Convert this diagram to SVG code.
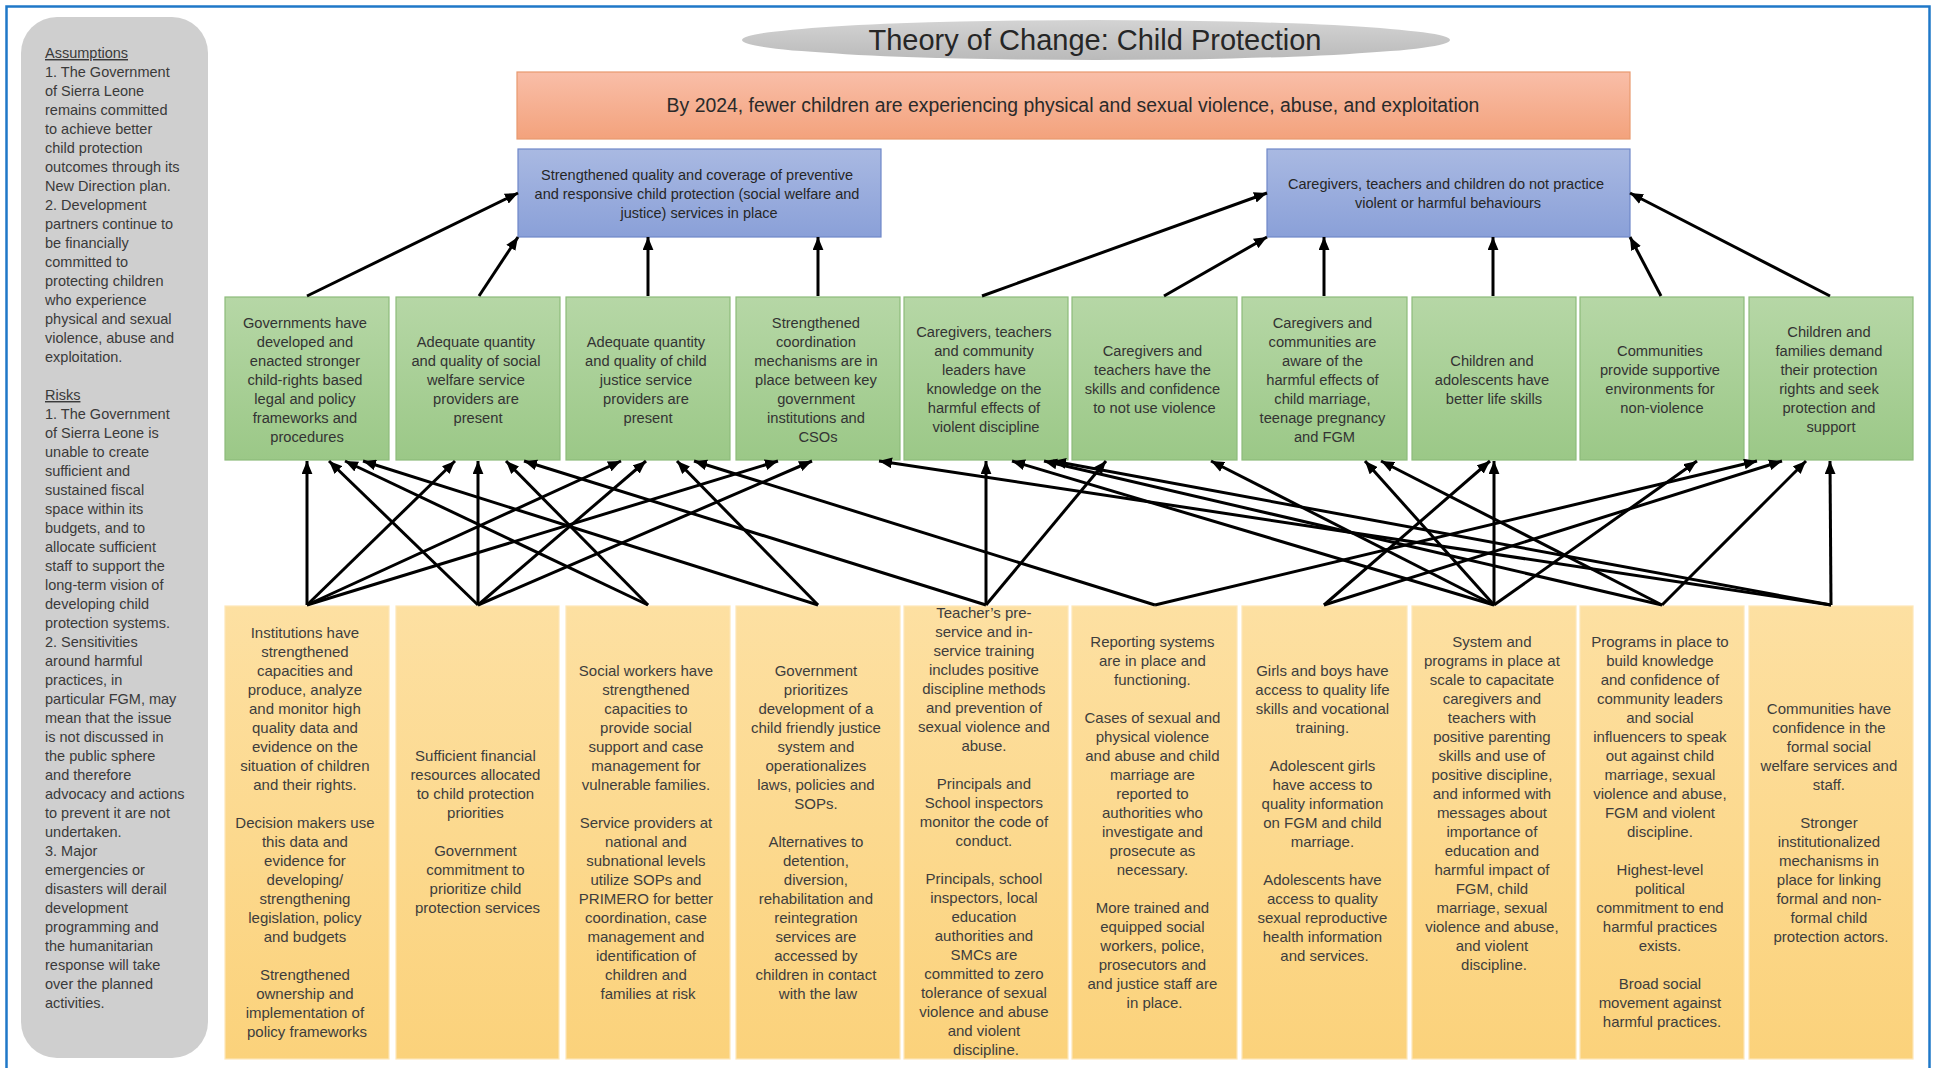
<svg xmlns="http://www.w3.org/2000/svg" width="1935" height="1068" viewBox="0 0 1935 1068">
  <defs>
    <linearGradient id="gOrange" x1="0" y1="0" x2="0" y2="1">
      <stop offset="0" stop-color="#f9bea8"/>
      <stop offset="1" stop-color="#f3a27c"/>
    </linearGradient>
    <linearGradient id="gBlue" x1="0" y1="0" x2="0" y2="1">
      <stop offset="0" stop-color="#a9b9e2"/>
      <stop offset="1" stop-color="#8aa0d8"/>
    </linearGradient>
    <linearGradient id="gGreen" x1="0" y1="0" x2="0" y2="1">
      <stop offset="0" stop-color="#b6d7a6"/>
      <stop offset="1" stop-color="#9bc887"/>
    </linearGradient>
    <linearGradient id="gYellow" x1="0" y1="0" x2="0" y2="1">
      <stop offset="0" stop-color="#fde0a2"/>
      <stop offset="1" stop-color="#fbd27b"/>
    </linearGradient>
    <linearGradient id="gTitle" x1="0" y1="0" x2="0" y2="1">
      <stop offset="0" stop-color="#d3d3d3"/>
      <stop offset="1" stop-color="#bababa"/>
    </linearGradient>
    <marker id="head" viewBox="0 0 12 10" refX="12" refY="5" markerWidth="13" markerHeight="11" markerUnits="userSpaceOnUse" orient="auto">
      <path d="M0,0 L12,5 L0,10 z" fill="#000"/>
    </marker>
    <style>
      text { font-family: "Liberation Sans", Arial, sans-serif; }
      .side { font-size: 14.5px; fill: #3a3a3a; }
      .ttl { font-size: 29px; fill: #262626; text-anchor: middle; }
      .goal { font-size: 19.4px; fill: #2a2a2a; text-anchor: middle; }
      .out { font-size: 14.5px; fill: #262626; text-anchor: middle; }
      .res { font-size: 14.7px; fill: #333333; text-anchor: middle; }
      .act { font-size: 15px; fill: #3d3d3d; text-anchor: middle; }
      .boxO { fill: url(#gOrange); stroke: #e8996f; stroke-width: 1.2; }
      .boxB { fill: url(#gBlue); stroke: #6f87c8; stroke-width: 1.2; }
      .boxG { fill: url(#gGreen); stroke: #8dbb7b; stroke-width: 1.2; }
      .boxY { fill: url(#gYellow); stroke: #fde7b8; stroke-width: 1.2; }
      .arr line { stroke: #000; stroke-width: 3; marker-end: url(#head); }
    </style>
  </defs>

  <rect x="0" y="0" width="1935" height="1068" fill="#ffffff"/>
  <!-- page frame -->
  <rect x="6.5" y="6.5" width="1923" height="1075" fill="none" stroke="#1f78c8" stroke-width="2.5"/>

  <!-- assumptions and risks panel -->
  <g id="assumptions-risks">
    <rect x="21" y="17" width="187" height="1041" rx="36" ry="36" fill="#cfcfcf"/>
    <text class="side" x="45" y="58">
      <tspan x="45" text-decoration="underline">Assumptions</tspan>
      <tspan x="45" dy="19">1. The Government</tspan>
      <tspan x="45" dy="19">of Sierra Leone</tspan>
      <tspan x="45" dy="19">remains committed</tspan>
      <tspan x="45" dy="19">to achieve better</tspan>
      <tspan x="45" dy="19">child protection</tspan>
      <tspan x="45" dy="19">outcomes through its</tspan>
      <tspan x="45" dy="19">New Direction plan.</tspan>
      <tspan x="45" dy="19">2. Development</tspan>
      <tspan x="45" dy="19">partners continue to</tspan>
      <tspan x="45" dy="19">be financially</tspan>
      <tspan x="45" dy="19">committed to</tspan>
      <tspan x="45" dy="19">protecting children</tspan>
      <tspan x="45" dy="19">who experience</tspan>
      <tspan x="45" dy="19">physical and sexual</tspan>
      <tspan x="45" dy="19">violence, abuse and</tspan>
      <tspan x="45" dy="19">exploitation.</tspan>
      <tspan x="45" dy="38" text-decoration="underline">Risks</tspan>
      <tspan x="45" dy="19">1. The Government</tspan>
      <tspan x="45" dy="19">of Sierra Leone is</tspan>
      <tspan x="45" dy="19">unable to create</tspan>
      <tspan x="45" dy="19">sufficient and</tspan>
      <tspan x="45" dy="19">sustained fiscal</tspan>
      <tspan x="45" dy="19">space within its</tspan>
      <tspan x="45" dy="19">budgets, and to</tspan>
      <tspan x="45" dy="19">allocate sufficient</tspan>
      <tspan x="45" dy="19">staff to support the</tspan>
      <tspan x="45" dy="19">long-term vision of</tspan>
      <tspan x="45" dy="19">developing child</tspan>
      <tspan x="45" dy="19">protection systems.</tspan>
      <tspan x="45" dy="19">2. Sensitivities</tspan>
      <tspan x="45" dy="19">around harmful</tspan>
      <tspan x="45" dy="19">practices, in</tspan>
      <tspan x="45" dy="19">particular FGM, may</tspan>
      <tspan x="45" dy="19">mean that the issue</tspan>
      <tspan x="45" dy="19">is not discussed in</tspan>
      <tspan x="45" dy="19">the public sphere</tspan>
      <tspan x="45" dy="19">and therefore</tspan>
      <tspan x="45" dy="19">advocacy and actions</tspan>
      <tspan x="45" dy="19">to prevent it are not</tspan>
      <tspan x="45" dy="19">undertaken.</tspan>
      <tspan x="45" dy="19">3. Major</tspan>
      <tspan x="45" dy="19">emergencies or</tspan>
      <tspan x="45" dy="19">disasters will derail</tspan>
      <tspan x="45" dy="19">development</tspan>
      <tspan x="45" dy="19">programming and</tspan>
      <tspan x="45" dy="19">the humanitarian</tspan>
      <tspan x="45" dy="19">response will take</tspan>
      <tspan x="45" dy="19">over the planned</tspan>
      <tspan x="45" dy="19">activities.</tspan>
    </text>
  </g>

  <!-- title -->
  <g id="title">
    <ellipse cx="1096" cy="40" rx="354" ry="20" fill="url(#gTitle)"/>
    <text class="ttl" x="1095" y="50">Theory of Change: Child Protection</text>
  </g>

  <!-- impact -->
  <g id="goal">
    <rect class="boxO" x="517" y="72" width="1113" height="67"/>
    <text class="goal" x="1073" y="112">By 2024, fewer children are experiencing physical and sexual violence, abuse, and exploitation</text>
  </g>

  <!-- outcomes -->
  <g id="outcome-services">
    <rect class="boxB" x="518" y="149" width="363" height="88"/>
    <text class="out" x="699" y="180">
      <tspan x="699">Strengthened quality and coverage of preventive</tspan>
      <tspan x="699" dy="19">and responsive child protection (social welfare and</tspan>
      <tspan x="699" dy="19">justice) services in place</tspan>
    </text>
  </g>
  <g id="outcome-behaviours">
    <rect class="boxB" x="1267" y="149" width="363" height="88"/>
    <text class="out" x="1448" y="189">
      <tspan x="1448">Caregivers, teachers and children do not practice</tspan>
      <tspan x="1448" dy="19">violent or harmful behaviours</tspan>
    </text>
  </g>

  <!-- intermediate results -->
  <g id="result-1">
    <rect class="boxG" x="225" y="297" width="164" height="163"/>
    <text class="res" x="307" y="327.5">
      <tspan x="307">Governments have</tspan>
      <tspan x="307" dy="19">developed and</tspan>
      <tspan x="307" dy="19">enacted stronger</tspan>
      <tspan x="307" dy="19">child-rights based</tspan>
      <tspan x="307" dy="19">legal and policy</tspan>
      <tspan x="307" dy="19">frameworks and</tspan>
      <tspan x="307" dy="19">procedures</tspan>
    </text>
  </g>
  <g id="result-2">
    <rect class="boxG" x="396" y="297" width="164" height="163"/>
    <text class="res" x="478" y="346.5">
      <tspan x="478">Adequate quantity</tspan>
      <tspan x="478" dy="19">and quality of social</tspan>
      <tspan x="478" dy="19">welfare service</tspan>
      <tspan x="478" dy="19">providers are</tspan>
      <tspan x="478" dy="19">present</tspan>
    </text>
  </g>
  <g id="result-3">
    <rect class="boxG" x="566" y="297" width="164" height="163"/>
    <text class="res" x="648" y="346.5">
      <tspan x="648">Adequate quantity</tspan>
      <tspan x="648" dy="19">and quality of child</tspan>
      <tspan x="648" dy="19">justice service</tspan>
      <tspan x="648" dy="19">providers are</tspan>
      <tspan x="648" dy="19">present</tspan>
    </text>
  </g>
  <g id="result-4">
    <rect class="boxG" x="736" y="297" width="164" height="163"/>
    <text class="res" x="818" y="327.5">
      <tspan x="818">Strengthened</tspan>
      <tspan x="818" dy="19">coordination</tspan>
      <tspan x="818" dy="19">mechanisms are in</tspan>
      <tspan x="818" dy="19">place between key</tspan>
      <tspan x="818" dy="19">government</tspan>
      <tspan x="818" dy="19">institutions and</tspan>
      <tspan x="818" dy="19">CSOs</tspan>
    </text>
  </g>
  <g id="result-5">
    <rect class="boxG" x="904" y="297" width="164" height="163"/>
    <text class="res" x="986" y="337">
      <tspan x="986">Caregivers, teachers</tspan>
      <tspan x="986" dy="19">and community</tspan>
      <tspan x="986" dy="19">leaders have</tspan>
      <tspan x="986" dy="19">knowledge on the</tspan>
      <tspan x="986" dy="19">harmful effects of</tspan>
      <tspan x="986" dy="19">violent discipline</tspan>
    </text>
  </g>
  <g id="result-6">
    <rect class="boxG" x="1072" y="297" width="165" height="163"/>
    <text class="res" x="1154.5" y="356">
      <tspan x="1154.5">Caregivers and</tspan>
      <tspan x="1154.5" dy="19">teachers have the</tspan>
      <tspan x="1154.5" dy="19">skills and confidence</tspan>
      <tspan x="1154.5" dy="19">to not use violence</tspan>
    </text>
  </g>
  <g id="result-7">
    <rect class="boxG" x="1242" y="297" width="165" height="163"/>
    <text class="res" x="1324.5" y="327.5">
      <tspan x="1324.5">Caregivers and</tspan>
      <tspan x="1324.5" dy="19">communities are</tspan>
      <tspan x="1324.5" dy="19">aware of the</tspan>
      <tspan x="1324.5" dy="19">harmful effects of</tspan>
      <tspan x="1324.5" dy="19">child marriage,</tspan>
      <tspan x="1324.5" dy="19">teenage pregnancy</tspan>
      <tspan x="1324.5" dy="19">and FGM</tspan>
    </text>
  </g>
  <g id="result-8">
    <rect class="boxG" x="1412" y="297" width="164" height="163"/>
    <text class="res" x="1494" y="365.5">
      <tspan x="1494">Children and</tspan>
      <tspan x="1494" dy="19">adolescents have</tspan>
      <tspan x="1494" dy="19">better life skills</tspan>
    </text>
  </g>
  <g id="result-9">
    <rect class="boxG" x="1580" y="297" width="164" height="163"/>
    <text class="res" x="1662" y="356">
      <tspan x="1662">Communities</tspan>
      <tspan x="1662" dy="19">provide supportive</tspan>
      <tspan x="1662" dy="19">environments for</tspan>
      <tspan x="1662" dy="19">non-violence</tspan>
    </text>
  </g>
  <g id="result-10">
    <rect class="boxG" x="1749" y="297" width="164" height="163"/>
    <text class="res" x="1831" y="337">
      <tspan x="1831">Children and</tspan>
      <tspan x="1831" dy="19">families demand</tspan>
      <tspan x="1831" dy="19">their protection</tspan>
      <tspan x="1831" dy="19">rights and seek</tspan>
      <tspan x="1831" dy="19">protection and</tspan>
      <tspan x="1831" dy="19">support</tspan>
    </text>
  </g>

  <!-- outputs -->
  <g id="output-1">
    <rect class="boxY" x="225" y="606" width="164" height="453"/>
    <text class="act" x="307" y="638">
      <tspan x="307">Institutions have</tspan>
      <tspan x="307" dy="19">strengthened</tspan>
      <tspan x="307" dy="19">capacities and</tspan>
      <tspan x="307" dy="19">produce, analyze</tspan>
      <tspan x="307" dy="19">and monitor high</tspan>
      <tspan x="307" dy="19">quality data and</tspan>
      <tspan x="307" dy="19">evidence on the</tspan>
      <tspan x="307" dy="19">situation of children</tspan>
      <tspan x="307" dy="19">and their rights.</tspan>
      <tspan x="307" dy="38">Decision makers use</tspan>
      <tspan x="307" dy="19">this data and</tspan>
      <tspan x="307" dy="19">evidence for</tspan>
      <tspan x="307" dy="19">developing/</tspan>
      <tspan x="307" dy="19">strengthening</tspan>
      <tspan x="307" dy="19">legislation, policy</tspan>
      <tspan x="307" dy="19">and budgets</tspan>
      <tspan x="307" dy="38">Strengthened</tspan>
      <tspan x="307" dy="19">ownership and</tspan>
      <tspan x="307" dy="19">implementation of</tspan>
      <tspan x="307" dy="19">policy frameworks</tspan>
    </text>
  </g>
  <g id="output-2">
    <rect class="boxY" x="396" y="606" width="163" height="453"/>
    <text class="act" x="477.5" y="761">
      <tspan x="477.5">Sufficient financial</tspan>
      <tspan x="477.5" dy="19">resources allocated</tspan>
      <tspan x="477.5" dy="19">to child protection</tspan>
      <tspan x="477.5" dy="19">priorities</tspan>
      <tspan x="477.5" dy="38">Government</tspan>
      <tspan x="477.5" dy="19">commitment to</tspan>
      <tspan x="477.5" dy="19">prioritize child</tspan>
      <tspan x="477.5" dy="19">protection services</tspan>
    </text>
  </g>
  <g id="output-3">
    <rect class="boxY" x="566" y="606" width="164" height="453"/>
    <text class="act" x="648" y="676">
      <tspan x="648">Social workers have</tspan>
      <tspan x="648" dy="19">strengthened</tspan>
      <tspan x="648" dy="19">capacities to</tspan>
      <tspan x="648" dy="19">provide social</tspan>
      <tspan x="648" dy="19">support and case</tspan>
      <tspan x="648" dy="19">management for</tspan>
      <tspan x="648" dy="19">vulnerable families.</tspan>
      <tspan x="648" dy="38">Service providers at</tspan>
      <tspan x="648" dy="19">national and</tspan>
      <tspan x="648" dy="19">subnational levels</tspan>
      <tspan x="648" dy="19">utilize SOPs and</tspan>
      <tspan x="648" dy="19">PRIMERO for better</tspan>
      <tspan x="648" dy="19">coordination, case</tspan>
      <tspan x="648" dy="19">management and</tspan>
      <tspan x="648" dy="19">identification of</tspan>
      <tspan x="648" dy="19">children and</tspan>
      <tspan x="648" dy="19">families at risk</tspan>
    </text>
  </g>
  <g id="output-4">
    <rect class="boxY" x="736" y="606" width="164" height="453"/>
    <text class="act" x="818" y="676">
      <tspan x="818">Government</tspan>
      <tspan x="818" dy="19">prioritizes</tspan>
      <tspan x="818" dy="19">development of a</tspan>
      <tspan x="818" dy="19">child friendly justice</tspan>
      <tspan x="818" dy="19">system and</tspan>
      <tspan x="818" dy="19">operationalizes</tspan>
      <tspan x="818" dy="19">laws, policies and</tspan>
      <tspan x="818" dy="19">SOPs.</tspan>
      <tspan x="818" dy="38">Alternatives to</tspan>
      <tspan x="818" dy="19">detention,</tspan>
      <tspan x="818" dy="19">diversion,</tspan>
      <tspan x="818" dy="19">rehabilitation and</tspan>
      <tspan x="818" dy="19">reintegration</tspan>
      <tspan x="818" dy="19">services are</tspan>
      <tspan x="818" dy="19">accessed by</tspan>
      <tspan x="818" dy="19">children in contact</tspan>
      <tspan x="818" dy="19">with the law</tspan>
    </text>
  </g>
  <g id="output-5">
    <rect class="boxY" x="904" y="606" width="164" height="453"/>
    <text class="act" x="986" y="618">
      <tspan x="986">Teacher’s pre-</tspan>
      <tspan x="986" dy="19">service and in-</tspan>
      <tspan x="986" dy="19">service training</tspan>
      <tspan x="986" dy="19">includes positive</tspan>
      <tspan x="986" dy="19">discipline methods</tspan>
      <tspan x="986" dy="19">and prevention of</tspan>
      <tspan x="986" dy="19">sexual violence and</tspan>
      <tspan x="986" dy="19">abuse.</tspan>
      <tspan x="986" dy="38">Principals and</tspan>
      <tspan x="986" dy="19">School inspectors</tspan>
      <tspan x="986" dy="19">monitor the code of</tspan>
      <tspan x="986" dy="19">conduct.</tspan>
      <tspan x="986" dy="38">Principals, school</tspan>
      <tspan x="986" dy="19">inspectors, local</tspan>
      <tspan x="986" dy="19">education</tspan>
      <tspan x="986" dy="19">authorities and</tspan>
      <tspan x="986" dy="19">SMCs are</tspan>
      <tspan x="986" dy="19">committed to zero</tspan>
      <tspan x="986" dy="19">tolerance of sexual</tspan>
      <tspan x="986" dy="19">violence and abuse</tspan>
      <tspan x="986" dy="19">and violent</tspan>
      <tspan x="986" dy="19">discipline.</tspan>
    </text>
  </g>
  <g id="output-6">
    <rect class="boxY" x="1072" y="606" width="165" height="453"/>
    <text class="act" x="1154.5" y="647">
      <tspan x="1154.5">Reporting systems</tspan>
      <tspan x="1154.5" dy="19">are in place and</tspan>
      <tspan x="1154.5" dy="19">functioning.</tspan>
      <tspan x="1154.5" dy="38">Cases of sexual and</tspan>
      <tspan x="1154.5" dy="19">physical violence</tspan>
      <tspan x="1154.5" dy="19">and abuse and child</tspan>
      <tspan x="1154.5" dy="19">marriage are</tspan>
      <tspan x="1154.5" dy="19">reported to</tspan>
      <tspan x="1154.5" dy="19">authorities who</tspan>
      <tspan x="1154.5" dy="19">investigate and</tspan>
      <tspan x="1154.5" dy="19">prosecute as</tspan>
      <tspan x="1154.5" dy="19">necessary.</tspan>
      <tspan x="1154.5" dy="38">More trained and</tspan>
      <tspan x="1154.5" dy="19">equipped social</tspan>
      <tspan x="1154.5" dy="19">workers, police,</tspan>
      <tspan x="1154.5" dy="19">prosecutors and</tspan>
      <tspan x="1154.5" dy="19">and justice staff are</tspan>
      <tspan x="1154.5" dy="19">in place.</tspan>
    </text>
  </g>
  <g id="output-7">
    <rect class="boxY" x="1242" y="606" width="165" height="453"/>
    <text class="act" x="1324.5" y="676">
      <tspan x="1324.5">Girls and boys have</tspan>
      <tspan x="1324.5" dy="19">access to quality life</tspan>
      <tspan x="1324.5" dy="19">skills and vocational</tspan>
      <tspan x="1324.5" dy="19">training.</tspan>
      <tspan x="1324.5" dy="38">Adolescent girls</tspan>
      <tspan x="1324.5" dy="19">have access to</tspan>
      <tspan x="1324.5" dy="19">quality information</tspan>
      <tspan x="1324.5" dy="19">on FGM and child</tspan>
      <tspan x="1324.5" dy="19">marriage.</tspan>
      <tspan x="1324.5" dy="38">Adolescents have</tspan>
      <tspan x="1324.5" dy="19">access to quality</tspan>
      <tspan x="1324.5" dy="19">sexual reproductive</tspan>
      <tspan x="1324.5" dy="19">health information</tspan>
      <tspan x="1324.5" dy="19">and services.</tspan>
    </text>
  </g>
  <g id="output-8">
    <rect class="boxY" x="1412" y="606" width="164" height="453"/>
    <text class="act" x="1494" y="647">
      <tspan x="1494">System and</tspan>
      <tspan x="1494" dy="19">programs in place at</tspan>
      <tspan x="1494" dy="19">scale to capacitate</tspan>
      <tspan x="1494" dy="19">caregivers and</tspan>
      <tspan x="1494" dy="19">teachers with</tspan>
      <tspan x="1494" dy="19">positive parenting</tspan>
      <tspan x="1494" dy="19">skills and use of</tspan>
      <tspan x="1494" dy="19">positive discipline,</tspan>
      <tspan x="1494" dy="19">and informed with</tspan>
      <tspan x="1494" dy="19">messages about</tspan>
      <tspan x="1494" dy="19">importance of</tspan>
      <tspan x="1494" dy="19">education and</tspan>
      <tspan x="1494" dy="19">harmful impact of</tspan>
      <tspan x="1494" dy="19">FGM, child</tspan>
      <tspan x="1494" dy="19">marriage, sexual</tspan>
      <tspan x="1494" dy="19">violence and abuse,</tspan>
      <tspan x="1494" dy="19">and violent</tspan>
      <tspan x="1494" dy="19">discipline.</tspan>
    </text>
  </g>
  <g id="output-9">
    <rect class="boxY" x="1580" y="606" width="164" height="453"/>
    <text class="act" x="1662" y="647">
      <tspan x="1662">Programs in place to</tspan>
      <tspan x="1662" dy="19">build knowledge</tspan>
      <tspan x="1662" dy="19">and confidence of</tspan>
      <tspan x="1662" dy="19">community leaders</tspan>
      <tspan x="1662" dy="19">and social</tspan>
      <tspan x="1662" dy="19">influencers to speak</tspan>
      <tspan x="1662" dy="19">out against child</tspan>
      <tspan x="1662" dy="19">marriage, sexual</tspan>
      <tspan x="1662" dy="19">violence and abuse,</tspan>
      <tspan x="1662" dy="19">FGM and violent</tspan>
      <tspan x="1662" dy="19">discipline.</tspan>
      <tspan x="1662" dy="38">Highest-level</tspan>
      <tspan x="1662" dy="19">political</tspan>
      <tspan x="1662" dy="19">commitment to end</tspan>
      <tspan x="1662" dy="19">harmful practices</tspan>
      <tspan x="1662" dy="19">exists.</tspan>
      <tspan x="1662" dy="38">Broad social</tspan>
      <tspan x="1662" dy="19">movement against</tspan>
      <tspan x="1662" dy="19">harmful practices.</tspan>
    </text>
  </g>
  <g id="output-10">
    <rect class="boxY" x="1749" y="606" width="164" height="453"/>
    <text class="act" x="1831" y="714">
      <tspan x="1831">Communities have</tspan>
      <tspan x="1831" dy="19">confidence in the</tspan>
      <tspan x="1831" dy="19">formal social</tspan>
      <tspan x="1831" dy="19">welfare services and</tspan>
      <tspan x="1831" dy="19">staff.</tspan>
      <tspan x="1831" dy="38">Stronger</tspan>
      <tspan x="1831" dy="19">institutionalized</tspan>
      <tspan x="1831" dy="19">mechanisms in</tspan>
      <tspan x="1831" dy="19">place for linking</tspan>
      <tspan x="1831" dy="19">formal and non-</tspan>
      <tspan x="1831" dy="19">formal child</tspan>
      <tspan x="1831" dy="19">protection actors.</tspan>
    </text>
  </g>

  <!-- connectors -->
  <g id="connectors" class="arr">
    <!-- results to outcomes -->
    <line x1="307" y1="296" x2="518" y2="193"/>
    <line x1="479" y1="296" x2="518" y2="237"/>
    <line x1="648" y1="296" x2="648" y2="237"/>
    <line x1="818" y1="296" x2="818" y2="237"/>
    <line x1="982" y1="296" x2="1267" y2="193"/>
    <line x1="1164" y1="296" x2="1267" y2="237"/>
    <line x1="1324" y1="296" x2="1324" y2="237"/>
    <line x1="1493" y1="296" x2="1493" y2="237"/>
    <line x1="1661" y1="296" x2="1630" y2="237"/>
    <line x1="1830" y1="296" x2="1630" y2="193"/>
    <!-- outputs to results -->
    <line x1="307" y1="605" x2="307" y2="461"/>
    <line x1="307" y1="605" x2="455" y2="461"/>
    <line x1="307" y1="605" x2="621" y2="461"/>
    <line x1="307" y1="605" x2="778" y2="461"/>
    <line x1="478" y1="605" x2="329" y2="461"/>
    <line x1="478" y1="605" x2="478" y2="461"/>
    <line x1="478" y1="605" x2="646" y2="461"/>
    <line x1="478" y1="605" x2="812" y2="461"/>
    <line x1="648" y1="605" x2="345" y2="461"/>
    <line x1="648" y1="605" x2="506" y2="461"/>
    <line x1="818" y1="605" x2="363" y2="461"/>
    <line x1="818" y1="605" x2="677" y2="461"/>
    <line x1="986" y1="605" x2="524" y2="461"/>
    <line x1="986" y1="605" x2="986" y2="461"/>
    <line x1="986" y1="605" x2="1106" y2="461"/>
    <line x1="1155" y1="605" x2="694" y2="461"/>
    <line x1="1155" y1="605" x2="1757" y2="461"/>
    <line x1="1324" y1="605" x2="1490" y2="461"/>
    <line x1="1324" y1="605" x2="1782" y2="461"/>
    <line x1="1494" y1="605" x2="1012" y2="461"/>
    <line x1="1494" y1="605" x2="1211" y2="461"/>
    <line x1="1494" y1="605" x2="1365" y2="461"/>
    <line x1="1494" y1="605" x2="1494" y2="461"/>
    <line x1="1494" y1="605" x2="1697" y2="461"/>
    <line x1="1662" y1="605" x2="1044" y2="461"/>
    <line x1="1662" y1="605" x2="1381" y2="461"/>
    <line x1="1662" y1="605" x2="1806" y2="461"/>
    <line x1="1831" y1="605" x2="879" y2="461"/>
    <line x1="1831" y1="605" x2="1053" y2="461"/>
    <line x1="1831" y1="605" x2="1830" y2="461"/>
  </g>
</svg>
